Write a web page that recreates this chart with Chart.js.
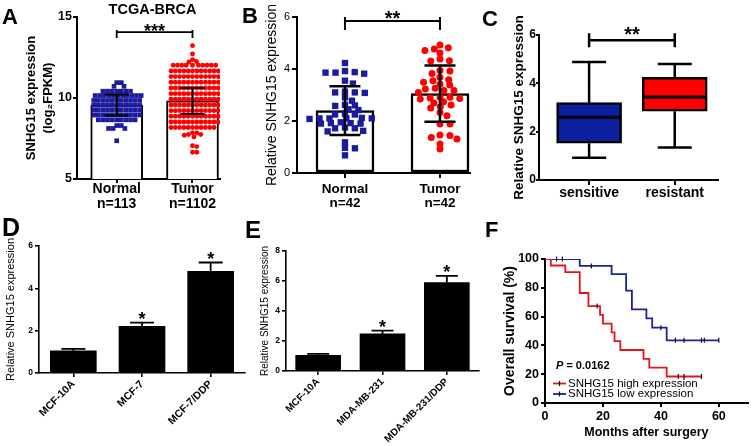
<!DOCTYPE html>
<html><head><meta charset="utf-8">
<script src="https://cdn.jsdelivr.net/npm/chart.js@4/dist/chart.umd.min.js"></script>
<style>
html,body{margin:0;padding:0;}
body{width:753px;height:446px;background:#fff;position:relative;overflow:hidden;font-family:"Liberation Sans",Arial,Helvetica,sans-serif;}
canvas{position:absolute;}
.lab{position:absolute;font-weight:bold;color:#000;line-height:1;white-space:nowrap;}
</style></head><body>
<canvas id="cA" width="240" height="215" style="left:0;top:0"></canvas>
<canvas id="cB" width="245" height="215" style="left:240px;top:0"></canvas>
<canvas id="cC" width="268" height="215" style="left:485px;top:0"></canvas>
<canvas id="cD" width="253" height="226" style="left:0;top:220px"></canvas>
<canvas id="cE" width="248" height="226" style="left:245px;top:220px"></canvas>
<canvas id="cF" width="268" height="226" style="left:485px;top:220px"></canvas>
<div class="lab" style="left:2px;top:6px;font-size:22px">A</div>
<div class="lab" style="left:242px;top:5px;font-size:22px">B</div>
<div class="lab" style="left:482px;top:8px;font-size:22px">C</div>
<div class="lab" style="left:2px;top:215px;font-size:25px">D</div>
<div class="lab" style="left:245px;top:218px;font-size:24px">E</div>
<div class="lab" style="left:485px;top:219px;font-size:22px">F</div>
<div class="lab" style="left:0;width:305px;text-align:center;top:2px;font-size:14.5px">TCGA-BRCA</div>
<script>
// ---------------- DATA ----------------
const catsAB = ['Normal', 'Tumor'];
const nA = ['n=113', 'n=1102'];
const nB = ['n=42', 'n=42'];

const normalA = [
  10.95, 10.95, 10.72, 10.72,
  10.42, 10.42, 10.42, 10.42, 10.42, 10.42, 10.42,
  10.15, 10.15, 10.15, 10.15, 10.15, 10.15, 10.15, 10.15, 10.15, 10.15, 10.15,
  9.85, 9.85, 9.85, 9.85, 9.85, 9.85, 9.85, 9.85, 9.85, 9.85, 9.85,
  9.55, 9.55, 9.55, 9.55, 9.55, 9.55, 9.55, 9.55, 9.55, 9.55, 9.55,
  9.25, 9.25, 9.25, 9.25, 9.25, 9.25, 9.25, 9.25, 9.25, 9.25, 9.25,
  8.95, 8.95, 8.95, 8.95, 8.95, 8.95, 8.95, 8.95, 8.95, 8.95, 8.95,
  8.65, 8.65, 8.65, 8.65, 8.65, 8.65, 8.65, 8.65, 8.65,
  8.3, 8.3, 8.12, 8.12, 8.12, 7.36
];
const tumorA = [
  13.23, 12.72, 12.37, 12.25, 12.22,
  12.02, 12.02, 12.02, 12.02, 12.02, 12.02, 12.02, 12.02, 12.02, 12.02,
  11.67, 11.67, 11.67, 11.67, 11.67, 11.67, 11.67, 11.67, 11.67, 11.67, 11.67, 11.67,
  11.32, 11.32, 11.32, 11.32, 11.32, 11.32, 11.32, 11.32, 11.32, 11.32, 11.32, 11.32,
  10.97, 10.97, 10.97, 10.97, 10.97, 10.97, 10.97, 10.97, 10.97, 10.97, 10.97, 10.97,
  10.62, 10.62, 10.62, 10.62, 10.62, 10.62, 10.62, 10.62, 10.62, 10.62, 10.62, 10.62,
  10.27, 10.27, 10.27, 10.27, 10.27, 10.27, 10.27, 10.27, 10.27, 10.27, 10.27, 10.27,
  9.92, 9.92, 9.92, 9.92, 9.92, 9.92, 9.92, 9.92, 9.92, 9.92, 9.92, 9.92,
  9.57, 9.57, 9.57, 9.57, 9.57, 9.57, 9.57, 9.57, 9.57, 9.57, 9.57, 9.57,
  9.22, 9.22, 9.22, 9.22, 9.22, 9.22, 9.22, 9.22, 9.22, 9.22, 9.22, 9.22,
  8.87, 8.87, 8.87, 8.87, 8.87, 8.87, 8.87, 8.87, 8.87, 8.87, 8.87, 8.87,
  8.52, 8.52, 8.52, 8.52, 8.52, 8.52, 8.52, 8.52, 8.52, 8.52, 8.52, 8.52,
  8.18, 8.18, 8.18, 8.18, 8.18, 8.18, 8.18, 8.18, 8.18, 8.18, 8.18,
  7.85, 7.85, 7.75, 7.75, 7.7, 7.6,
  7.05, 7.0, 6.65, 6.65
];
const meanA = [9.57, 9.82];
const sdA = [0.65, 0.8];

const normalB = [4.23, 3.92, 3.88, 3.86, 3.86, 3.82, 3.55, 3.44, 3.13, 3.1, 3.1, 3.08, 2.91, 2.78,
  2.62, 2.6, 2.58, 2.45, 2.42, 2.28, 2.25, 2.25, 2.12, 2.1, 2.1, 2.1, 2.1, 2.08, 1.95, 1.92, 1.92,
  1.9, 1.9, 1.75, 1.72, 1.72, 1.62, 1.6, 1.18, 0.97, 0.95, 0.68];
const tumorB = [4.92, 4.82, 4.77, 4.71, 4.62, 4.38, 4.32, 4.31, 3.94, 3.92, 3.83, 3.68, 3.59, 3.55,
  3.49, 3.42, 3.38, 3.26, 3.23, 3.17, 3.17, 3.1, 2.91, 2.91, 2.88, 2.87, 2.85, 2.74, 2.69, 2.62,
  2.55, 2.5, 2.33, 2.2, 1.88, 1.88, 1.46, 1.44, 1.37, 1.31, 1.12, 0.92];
const meanB = [2.4, 3.05];
const sdB = [0.94, 1.08];

const catsC = ['sensitive', 'resistant'];
const minC = [0.92, 1.35];
const q1C = [1.52, 2.85];
const medC = [2.6, 3.43];
const q3C = [3.2, 4.25];
const maxC = [4.88, 4.8];

const catsD = ['MCF-10A', 'MCF-7', 'MCF-7/DDP'];
const valD = [1.05, 2.2, 4.8];
const errD = [0.09, 0.18, 0.42];
const starsD = ['', '*', '*'];

const catsE = ['MCF-10A', 'MDA-MB-231', 'MDA-MB-231/DDP'];
const valE = [1.04, 2.47, 5.9];
const errE = [0.1, 0.22, 0.44];
const starsE = ['', '*', '*'];

const highT = [0, 2, 7, 12, 15, 19, 20, 23, 24, 26, 34, 36, 42, 54];
const highS = [100, 95.5, 90.9, 76.4, 67.3, 61.2, 55.1, 49.0, 42.9, 36.8, 30.6, 24.5, 18.4, 18.4];
const highCensT = [18, 46, 48, 54];
const highCensS = [67.3, 18.4, 18.4, 18.4];
const lowT = [0, 12, 23, 28, 30, 35, 37, 42, 60];
const lowS = [100, 95.2, 89.5, 78.1, 65.0, 58.7, 52.3, 43.5, 43.5];
const lowCensT = [4, 6, 16, 40, 45, 48, 54, 55, 60];
const lowCensS = [100, 100, 95.2, 52.3, 43.5, 43.5, 43.5, 43.5, 43.5];
const xTicksF = [0, 20, 40, 60];

// ---------------- STYLE ----------------
const FONT = '"Liberation Sans", Arial, Helvetica, sans-serif';
const BLUE = '#1b1b9e', RED = '#ff0000';
Chart.defaults.font.family = FONT;
Chart.defaults.color = '#000';
Chart.defaults.animation = false;
Chart.defaults.responsive = false;
Chart.defaults.maintainAspectRatio = false;
Chart.defaults.plugins.legend.display = false;
Chart.defaults.plugins.tooltip.enabled = false;

function fnt(size, weight = 'bold', lh = 1.2) { return {family: FONT, size, weight, lineHeight: lh}; }
function ax(bw, tl) {
  return {
    border: {display: true, color: '#000', width: bw},
    grid: {display: true, drawOnChartArea: false, drawTicks: true, tickLength: tl, color: '#000', lineWidth: bw, offset: false},
  };
}
// beeswarm layout (horizontal spread of points around a category centre)
function swarm(values, cx, pxPerY, pxPerX, d) {
  const placed = [], out = [];
  [...values].sort((a, b) => b - a).forEach(v => {
    const y = v * pxPerY;
    const near = placed.filter(p => Math.abs(p.y - y) < d);
    const cands = [0];
    near.forEach(p => { const dx = Math.sqrt(d * d - (p.y - y) ** 2); cands.push(p.x + dx, p.x - dx); });
    cands.sort((a, b) => Math.abs(a) - Math.abs(b));
    const x = cands.find(c => near.every(p => (p.x - c) ** 2 + (p.y - y) ** 2 >= d * d - 1e-6));
    placed.push({x, y});
    out.push({x: cx + x / pxPerX, y: v});
  });
  return out;
}
function deco(spec) {
  return {
    id: 'deco',
    afterDatasetsDraw(chart) {
      const ctx = chart.ctx, xs = chart.scales.x, ys = chart.scales.y;
      ctx.save();
      (spec.errs || []).forEach(e => {
        const x = xs.getPixelForValue(e.x), yH = ys.getPixelForValue(e.hi), yL = ys.getPixelForValue(e.lo);
        ctx.strokeStyle = '#000'; ctx.lineWidth = e.lw;
        ctx.beginPath();
        ctx.moveTo(x, yL); ctx.lineTo(x, yH);
        ctx.moveTo(x - e.cap / 2, yH); ctx.lineTo(x + e.cap / 2, yH);
        if (e.both) { ctx.moveTo(x - e.cap / 2, yL); ctx.lineTo(x + e.cap / 2, yL); }
        ctx.stroke();
        if (e.star) {
          ctx.fillStyle = '#000'; ctx.font = e.starFont; ctx.textAlign = 'center'; ctx.textBaseline = 'alphabetic';
          ctx.fillText(e.star, x, yH + e.starDy);
        }
      });
      (spec.brackets || []).forEach(b => {
        const x1 = xs.getPixelForValue(b.x1), x2 = xs.getPixelForValue(b.x2), y = ys.getPixelForValue(b.y);
        ctx.strokeStyle = '#000'; ctx.lineWidth = b.lw;
        ctx.beginPath();
        ctx.moveTo(x1, y); ctx.lineTo(x2, y);
        ctx.moveTo(x1, y - b.up); ctx.lineTo(x1, y + b.down);
        ctx.moveTo(x2, y - b.up); ctx.lineTo(x2, y + b.down);
        ctx.stroke();
        ctx.fillStyle = '#000'; ctx.font = b.font; ctx.textAlign = 'center'; ctx.textBaseline = 'alphabetic';
        ctx.fillText(b.text, (x1 + x2) / 2, y + b.dy);
      });
      if (spec.extra) spec.extra(chart, ctx);
      ctx.restore();
    }
  };
}
const twoTicks = s => { s.ticks = [{value: 1}, {value: 2}]; };

// ---------------- PANEL A ----------------
new Chart(document.getElementById('cA'), {
  type: 'bar',
  data: {datasets: [
    {type: 'bar', data: meanA.map((m, i) => ({x: i + 1, y: m})), backgroundColor: '#fff', borderColor: '#000',
     borderWidth: 2, borderSkipped: false, barThickness: 52, order: 3},
    {type: 'scatter', data: swarm(normalA, 1, 16.2, 75.8, 4.6), pointStyle: 'rect', pointRadius: 3.3,
     backgroundColor: BLUE, borderWidth: 0, order: 1},
    {type: 'scatter', data: swarm(tumorA, 2, 16.2, 75.8, 4.3), pointStyle: 'circle', pointRadius: 2.45,
     backgroundColor: RED, borderWidth: 0, order: 1},
  ]},
  options: {
    layout: {padding: {left: 0, top: 17, right: 20, bottom: 0}},
    scales: {
      x: {type: 'linear', min: 0.476, max: 2.363, offset: false, ...ax(2, 4),
          afterBuildTicks: twoTicks,
          ticks: {font: fnt(14, 'bold', 1.1), padding: -2, maxRotation: 0, callback: v => [catsAB[v - 1], nA[v - 1]]},
          afterFit: s => { s.height = 36; }},
      y: {min: 5, max: 15, ...ax(2, 4),
          ticks: {stepSize: 5, font: fnt(12.5), padding: 1},
          title: {display: true, text: ['SNHG15 expression', '(log\u2082FPKM)'], font: fnt(13, 'bold', 1.38), padding: {top: 22, bottom: 0}},
          afterFit: s => { s.width = 77; }}
    }
  },
  plugins: [deco({
    errs: meanA.map((m, i) => ({x: i + 1, lo: m - sdA[i], hi: m + sdA[i], cap: 24, lw: 2, both: true})),
    brackets: [{x1: 1, x2: 2, y: 14.07, up: 2, down: 6, lw: 1.8, text: '***', font: 'bold 18px ' + FONT, dy: 5}]
  })]
});

// ---------------- PANEL B ----------------
new Chart(document.getElementById('cB'), {
  type: 'bar',
  data: {datasets: [
    {type: 'bar', data: meanB.map((m, i) => ({x: i + 1, y: m})), backgroundColor: '#fff', borderColor: '#000',
     borderWidth: 2.5, borderSkipped: false, barThickness: 58, order: 3},
    {type: 'scatter', data: swarm(normalB, 1, 55, 95, 10), pointStyle: 'rect', pointRadius: 4.5,
     backgroundColor: BLUE, borderWidth: 0, order: 1},
    {type: 'scatter', data: swarm(tumorB, 2, 55, 95, 10), pointStyle: 'circle', pointRadius: 3.5,
     backgroundColor: RED, borderWidth: 0, order: 1},
  ]},
  options: {
    layout: {padding: {left: 0, top: 17, right: 15, bottom: 0}},
    scales: {
      x: {type: 'linear', min: 0.495, max: 2.316, offset: false, ...ax(2, 5),
          afterBuildTicks: twoTicks,
          ticks: {font: fnt(13.5, 'bold', 1.0), padding: 5, maxRotation: 0, callback: v => [catsAB[v - 1], nB[v - 1]]},
          afterFit: s => { s.height = 42; }},
      y: {min: 0, max: 6, ...ax(2, 5),
          ticks: {stepSize: 2, font: fnt(11, 'normal'), padding: 2},
          title: {display: true, text: 'Relative SNHG15 expression', font: fnt(14, 'normal'), padding: {top: 24, bottom: 0}},
          afterFit: s => { s.width = 57; }}
    }
  },
  plugins: [deco({
    errs: meanB.map((m, i) => ({x: i + 1, lo: m - sdB[i], hi: m + sdB[i], cap: 31, lw: 2.5, both: true})),
    brackets: [{x1: 1, x2: 2, y: 5.85, up: 4, down: 9, lw: 2, text: '**', font: 'bold 20px ' + FONT, dy: 4.4}]
  })]
});

// ---------------- PANEL C ----------------
const whisk = i => [{x: i + 1, y: minC[i]}, {x: i + 1, y: q1C[i]}, {x: i + 1, y: null}, {x: i + 1, y: q3C[i]}, {x: i + 1, y: maxC[i]}];
new Chart(document.getElementById('cC'), {
  type: 'bar',
  data: {datasets: [
    {type: 'scatter', data: medC.map((m, i) => ({x: i + 1, y: m})), pointStyle: 'line', pointRadius: 32,
     borderColor: '#000', borderWidth: 3, order: 0},
    {type: 'scatter', data: [...minC, ...maxC].map((v, k) => ({x: (k % 2) + 1, y: v})), pointStyle: 'line', pointRadius: 17,
     borderColor: '#000', borderWidth: 2.5, order: 0, clip: false},
    {type: 'bar', data: catsC.map((c, i) => ({x: i + 1, y: [q1C[i], q3C[i]]})), backgroundColor: ['#0c1f9f', RED],
     borderColor: '#000', borderWidth: 2.5, borderSkipped: false, barThickness: 65, order: 1},
    {type: 'line', data: whisk(0), borderColor: '#000', borderWidth: 2.5, pointRadius: 0, spanGaps: false, order: 2},
    {type: 'line', data: whisk(1), borderColor: '#000', borderWidth: 2.5, pointRadius: 0, spanGaps: false, order: 2},
  ]},
  options: {
    layout: {padding: {left: 0, top: 26, right: 13, bottom: 0}},
    scales: {
      x: {type: 'linear', min: 0.415, max: 2.505, offset: false, ...ax(2, 5),
          afterBuildTicks: twoTicks,
          ticks: {font: fnt(14, 'bold'), padding: 0, maxRotation: 0, callback: v => catsC[v - 1]},
          afterFit: s => { s.height = 24; }},
      y: {min: 0, max: 6, ...ax(2, 3),
          ticks: {stepSize: 2, font: fnt(12), padding: 0},
          title: {display: true, text: 'Relative SNHG15 expression', font: fnt(13.5, 'bold'), padding: {top: 26, bottom: 0}},
          afterFit: s => { s.width = 54; }}
    }
  },
  plugins: [deco({
    brackets: [{x1: 1, x2: 2, y: 5.78, up: 7, down: 7, lw: 2.5, text: '**', font: 'bold 20px ' + FONT, dy: 1}]
  })]
});

// ---------------- PANEL D ----------------
new Chart(document.getElementById('cD'), {
  type: 'bar',
  data: {labels: catsD, datasets: [{data: valD, backgroundColor: '#000', borderWidth: 0, barThickness: 46}]},
  options: {
    layout: {padding: {left: 0, top: 26, right: 8, bottom: 0}},
    scales: {
      x: {offset: true, ...ax(1.6, 4),
          ticks: {font: fnt(10.5), minRotation: 45, maxRotation: 45, padding: 1},
          afterFit: s => { s.height = 73; }},
      y: {min: 0, max: 6, ...ax(1.6, 4),
          ticks: {stepSize: 2, font: fnt(8.5), padding: 2},
          title: {display: true, text: 'Relative SNHG15 expression', font: fnt(11, 'normal'), padding: {top: 4, bottom: 0}},
          afterFit: s => { s.width = 39; }}
    }
  },
  plugins: [deco({
    errs: valD.map((v, i) => ({x: i, lo: v, hi: v + errD[i], cap: 24, lw: 1.8, star: starsD[i], starFont: 'bold 18px ' + FONT, starDy: 2.7}))
  })]
});

// ---------------- PANEL E ----------------
new Chart(document.getElementById('cE'), {
  type: 'bar',
  data: {labels: catsE, datasets: [{data: valE, backgroundColor: '#000', borderWidth: 0, barThickness: 45}]},
  options: {
    layout: {padding: {left: 0, top: 31, right: 14, bottom: 0}},
    scales: {
      x: {offset: true, ...ax(1.6, 4),
          ticks: {font: fnt(10), minRotation: 45, maxRotation: 45, padding: 1},
          afterFit: s => { s.height = 75; }},
      y: {min: 0, max: 8, ...ax(1.6, 4),
          ticks: {stepSize: 2, font: fnt(8.5), padding: 2},
          title: {display: true, text: 'Relative SNHG15 expression', font: fnt(10, 'normal'), padding: {top: 14, bottom: 0}},
          afterFit: s => { s.width = 41; }}
    }
  },
  plugins: [deco({
    errs: valE.map((v, i) => ({x: i, lo: v, hi: v + errE[i], cap: 22, lw: 1.8, star: starsE[i], starFont: 'bold 18px ' + FONT, starDy: 2.3}))
  })]
});

// ---------------- PANEL F ----------------
const KM_RED = '#e3141c', KM_BLUE = '#1d2296';
new Chart(document.getElementById('cF'), {
  type: 'line',
  data: {datasets: [
    {data: lowT.map((t, i) => ({x: t, y: lowS[i]})), stepped: true, borderColor: KM_BLUE, borderWidth: 1.8, pointRadius: 0, order: 2},
    {data: highT.map((t, i) => ({x: t, y: highS[i]})), stepped: true, borderColor: KM_RED, borderWidth: 1.8, pointRadius: 0, order: 1},
    {type: 'scatter', data: lowCensT.map((t, i) => ({x: t, y: lowCensS[i]})), pointStyle: 'line', rotation: 90, pointRadius: 2.5,
     borderColor: '#111', borderWidth: 1.2, clip: false, order: 0},
    {type: 'scatter', data: highCensT.map((t, i) => ({x: t, y: highCensS[i]})), pointStyle: 'line', rotation: 90, pointRadius: 2.5,
     borderColor: '#111', borderWidth: 1.2, clip: false, order: 0},
  ]},
  options: {
    layout: {padding: {left: 0, top: 39, right: 3, bottom: 0}},
    scales: {
      x: {type: 'linear', min: 0, max: 70, ...ax(2, 4),
          afterBuildTicks: s => { s.ticks = xTicksF.map(v => ({value: v})); },
          ticks: {font: fnt(12.5), padding: 2, maxRotation: 0},
          title: {display: true, text: 'Months after surgery', font: fnt(12.5), padding: {top: 0, bottom: 6}},
          afterFit: s => { s.height = 43; }},
      y: {min: 0, max: 100, ...ax(2, 4),
          ticks: {stepSize: 20, font: fnt(12.5), padding: 2},
          title: {display: true, text: 'Overall survival (%)', font: fnt(14), padding: {top: 17, bottom: 0}},
          afterFit: s => { s.width = 60; }}
    }
  },
  plugins: [deco({
    extra: (chart, ctx) => {
      const L = chart.chartArea.left, B = chart.chartArea.bottom;
      ctx.fillStyle = '#000'; ctx.textBaseline = 'middle'; ctx.textAlign = 'left';
      ctx.font = 'italic bold 11px ' + FONT;
      ctx.fillText('P', L + 11, B - 37);
      const pw = ctx.measureText('P').width;
      ctx.font = 'bold 11px ' + FONT;
      ctx.fillText(' = 0.0162', L + 11 + pw, B - 37);
      [[KM_RED, 'SNHG15 high expression', B - 19.5], [KM_BLUE, 'SNHG15 low expression', B - 9]].forEach(([c, t, y]) => {
        ctx.strokeStyle = c; ctx.lineWidth = 1.8;
        ctx.beginPath(); ctx.moveTo(L + 8, y); ctx.lineTo(L + 21, y); ctx.stroke();
        ctx.strokeStyle = '#111'; ctx.lineWidth = 1.2;
        ctx.beginPath(); ctx.moveTo(L + 14.5, y - 2.5); ctx.lineTo(L + 14.5, y + 2.5); ctx.stroke();
        ctx.fillStyle = '#000'; ctx.font = '11.5px ' + FONT;
        ctx.fillText(t, L + 23, y);
      });
    }
  })]
});
</script>
</body></html>
